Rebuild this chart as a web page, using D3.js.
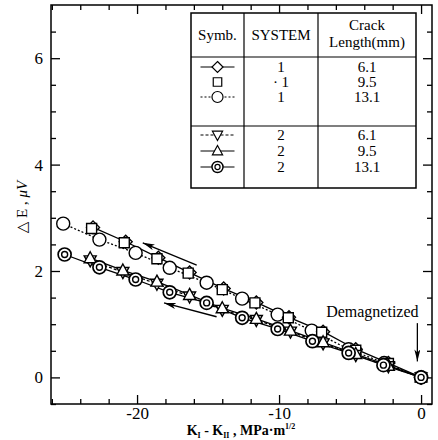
<!DOCTYPE html>
<html lang="en">
<head>
<meta charset="UTF-8">
<title>Delta E vs KI-KII</title>
<script src="https://cdn.jsdelivr.net/npm/d3@7"></script>
<style>
	html,body{margin:0;padding:0;background:#fff;}
	#svg, #svg text{font-family:"Times New Roman","Liberation Serif",Times,"DejaVu Serif",serif !important;}
	#svg text{fill:#000;}
	.axis path,.axis line{stroke:#000;stroke-width:1.3;}
	.axis text{font-size:17px;}
</style>
</head>
<body>
<svg id="svg" width="438" height="440" font-family="Liberation Serif, serif"></svg>
<script>
// ---- data ----
// system 1
var sys1Crack61 = [[-23.1,2.82],[-20.8,2.55],[-18.5,2.25],[-16.3,1.97],[-13.9,1.67],[-11.6,1.41],[-9.3,1.13],[-6.9,0.86],[-4.6,0.53],[-2.3,0.27],[0,0]];
var sys1Crack95 = [[-23.2,2.80],[-20.9,2.53],[-18.6,2.23],[-16.4,1.96],[-14.0,1.65],[-11.7,1.40],[-9.35,1.12],[-7.0,0.85],[-4.6,0.51],[-2.3,0.26],[0,0]];
var sys1Crack131 = [[-25.2,2.89],[-22.65,2.59],[-20.1,2.34],[-17.7,2.06],[-15.1,1.78],[-12.6,1.48],[-10.1,1.18],[-7.7,0.88],[-5.1,0.53],[-2.6,0.27],[0,0]];
// system 2
var sys2Crack61 = [[-23.3,2.20],[-21.0,1.98],[-18.6,1.76],[-16.3,1.52],[-14.0,1.27],[-11.6,1.08],[-9.2,0.86],[-6.9,0.64],[-4.6,0.42],[-2.3,0.21],[0,0]];
var sys2Crack95 = [[-23.3,2.24],[-21.0,2.01],[-18.6,1.80],[-16.3,1.55],[-14.0,1.30],[-11.6,1.10],[-9.2,0.88],[-6.9,0.66],[-4.6,0.44],[-2.3,0.22],[0,0]];
var sys2Crack131 = [[-25.1,2.31],[-22.65,2.07],[-20.1,1.84],[-17.7,1.60],[-15.1,1.40],[-12.6,1.12],[-10.1,0.91],[-7.65,0.68],[-5.1,0.46],[-2.65,0.23],[0,0]];

var xMajorTicks = [-20,-10,0];
var xMinorTicks = [-26,-24,-22,-18,-16,-14,-12,-8,-6,-4,-2];
var yMajorTicks = [0,2,4,6];
var yMinorTicks = [-0.5,0.5,1,1.5,2.5,3,3.5,4.5,5,5.5,6.5];

// table rows: symbol, system, crack length
var tableSymbols = ["diamond","square","circle","triDown","triUp","dcircle"];
var tableSystems = ["1","\u00b7 1","1","2","2","2"];
var tableCracks = ["6.1","9.5","13.1","6.1","9.5","13.1"];
var tableDash = ["none","none","2,2","3,2","none","none"];
var tableHasLine = [true,false,true,true,true,true];

// annotation arrows in data units [x1,y1,x2,y2] (head at second point)
var arrowUpper = [-15.8,2.11,-19.6,2.53];
var arrowLower = [-14.4,1.14,-18.1,1.40];
var arrowDemag = [-0.26,1.02,-0.26,0.30];

// ---- drawing ----
var svg = d3.select("#svg");
var L = 51, R = 432, T = 5, B = 404;

var x = d3.scaleLinear().domain([-26.06,0.77]).range([L,R]);
var y = d3.scaleLinear().domain([-0.5,7]).range([B,T]);

svg.append("defs").append("marker")
	.attr("id","head")
	.attr("viewBox","0 0 12 6")
	.attr("refX",12).attr("refY",3)
	.attr("markerWidth",12).attr("markerHeight",6)
	.attr("markerUnits","userSpaceOnUse")
	.attr("orient","auto")
	.append("path").attr("d","M0,0 L12,3 L0,6 L3,3 Z").attr("fill","#000");

// axes: minor ticks
svg.append("g").attr("class","axis").attr("transform","translate(0,"+B+")")
	.call(d3.axisBottom(x).tickValues(xMinorTicks).tickSize(-5).tickFormat(""));
svg.append("g").attr("class","axis").attr("transform","translate(0,"+T+")")
	.call(d3.axisTop(x).tickValues(xMinorTicks).tickSize(-5).tickFormat(""));
svg.append("g").attr("class","axis").attr("transform","translate("+L+",0)")
	.call(d3.axisLeft(y).tickValues(yMinorTicks).tickSize(-5).tickFormat(""));
svg.append("g").attr("class","axis").attr("transform","translate("+R+",0)")
	.call(d3.axisRight(y).tickValues(yMinorTicks).tickSize(-5).tickFormat(""));

// axes: major ticks
svg.append("g").attr("class","axis").attr("transform","translate(0,"+B+")")
	.call(d3.axisBottom(x).tickValues(xMajorTicks).tickSize(-9).tickPadding(3).tickFormat(d3.format("d")));
svg.append("g").attr("class","axis").attr("transform","translate(0,"+T+")")
	.call(d3.axisTop(x).tickValues(xMajorTicks).tickSize(-9).tickFormat(""));
svg.append("g").attr("class","axis").attr("transform","translate("+L+",0)")
	.call(d3.axisLeft(y).tickValues(yMajorTicks).tickSize(-9).tickPadding(8).tickFormat(d3.format("d")));
svg.append("g").attr("class","axis").attr("transform","translate("+R+",0)")
	.call(d3.axisRight(y).tickValues(yMajorTicks).tickSize(-9).tickFormat(""));

svg.selectAll(".axis .domain").remove();
svg.selectAll(".axis").attr("font-family",null).attr("font-size",null);
svg.append("rect").attr("x",L).attr("y",T).attr("width",R-L).attr("height",B-T)
	.attr("fill","none").attr("stroke","#000").attr("stroke-width",1.5);

// hyphen minus like the original "-20"
svg.selectAll(".axis text").text(function(){ return this.textContent.replace("\u2212","-"); });

// marker shapes
function symbolPath(type){
	switch(type){
		case "diamond": return "M0,-6.5 L6.5,0 L0,6.5 L-6.5,0 Z";
		case "square": return "M-5,-5 L5,-5 L5,5 L-5,5 Z";
		case "triUp": return "M0,-6.5 L6,4.5 L-6,4.5 Z";
		case "triDown": return "M0,6.5 L6,-4.5 L-6,-4.5 Z";
	}
	return null;
}
function drawMarkers(g, data, type, px, py){
	var s = g.selectAll(null).data(data).enter().append("g")
		.attr("transform", function(d){ return "translate("+px(d)+","+py(d)+")"; });
	if(type=="circle"){
		s.append("circle").attr("r",6.5).attr("fill","#fff").attr("stroke","#000").attr("stroke-width",1.4);
	} else if(type=="dcircle"){
		s.append("circle").attr("r",6.5).attr("fill","#fff").attr("stroke","#000").attr("stroke-width",1.7);
		s.append("circle").attr("r",3).attr("fill","#fff").attr("stroke","#000").attr("stroke-width",1.4);
	} else {
		s.append("path").attr("d",symbolPath(type)).attr("fill","#fff").attr("stroke","#000").attr("stroke-width",1.4);
	}
}

var line = d3.line().x(function(d){ return x(d[0]); }).y(function(d){ return y(d[1]); });
var plot = svg.append("g");
function drawLine(data, dash){
	plot.append("path").datum(data).attr("d",line).attr("fill","none")
		.attr("stroke","#000").attr("stroke-width",1.3)
		.attr("stroke-dasharray", dash);
}
drawLine(sys1Crack131,"2,2");
drawLine(sys1Crack61,"none");
drawLine(sys2Crack61,"3,2");
drawLine(sys2Crack95,"none");
drawLine(sys2Crack131,"none");

var px = function(d){ return x(d[0]); }, py = function(d){ return y(d[1]); };
drawMarkers(plot, sys1Crack131, "circle", px, py);
drawMarkers(plot, sys1Crack61, "diamond", px, py);
drawMarkers(plot, sys1Crack95, "square", px, py);
drawMarkers(plot, sys2Crack61, "triDown", px, py);
drawMarkers(plot, sys2Crack95, "triUp", px, py);
drawMarkers(plot, sys2Crack131, "dcircle", px, py);

// arrows
[arrowUpper, arrowLower, arrowDemag].forEach(function(a){
	svg.append("line")
		.attr("x1",x(a[0])).attr("y1",y(a[1]))
		.attr("x2",x(a[2])).attr("y2",y(a[3]))
		.attr("stroke","#000").attr("stroke-width",1.3)
		.attr("marker-end","url(#head)");
});
svg.append("text").attr("x",x(arrowDemag[0])-45).attr("y",y(arrowDemag[1])-6)
	.attr("text-anchor","middle").attr("font-size",16).text("Demagnetized");

// table legend
var tb = svg.append("g");
var tx0 = 191, tx1 = 244, tx2 = 318, tx3 = 416, ty0 = 13, ty1 = 57, ty2 = 126, ty3 = 188;
tb.append("rect").attr("x",tx0).attr("y",ty0).attr("width",tx3-tx0).attr("height",ty3-ty0)
	.attr("fill","#fff").attr("stroke","#000").attr("stroke-width",1.5);
[[tx1,ty0,tx1,ty3],[tx2,ty0,tx2,ty3],[tx0,ty1,tx3,ty1],[tx0,ty2,tx3,ty2]].forEach(function(l){
	tb.append("line").attr("x1",l[0]).attr("y1",l[1]).attr("x2",l[2]).attr("y2",l[3])
		.attr("stroke","#000").attr("stroke-width",1.2);
});
var hdr = tb.append("g").attr("font-size",15).attr("text-anchor","middle");
hdr.append("text").attr("x",(tx0+tx1)/2).attr("y",40).text("Symb.");
hdr.append("text").attr("x",(tx1+tx2)/2).attr("y",40).text("SYSTEM");
hdr.append("text").attr("x",(tx2+tx3)/2).attr("y",30).text("Crack");
hdr.append("text").attr("x",(tx2+tx3)/2).attr("y",47).text("Length(mm)");

var rowY = [67,82,97,135,151,167];
tableSymbols.forEach(function(t,i){
	var cx = (tx0+tx1)/2, cy = rowY[i];
	if(tableHasLine[i]){
		tb.append("line").attr("x1",cx-17).attr("x2",cx+17).attr("y1",cy).attr("y2",cy)
			.attr("stroke","#000").attr("stroke-width",1.2).attr("stroke-dasharray",tableDash[i]);
	}
	var g = tb.append("g").attr("transform","translate("+cx+","+cy+") scale(0.85)");
	drawMarkers(g, [[0,0]], t, function(){return 0;}, function(){return 0;});
	tb.append("text").attr("x",(tx1+tx2)/2).attr("y",cy+5).attr("text-anchor","middle")
		.attr("font-size",15).text(tableSystems[i]);
	tb.append("text").attr("x",(tx2+tx3)/2).attr("y",cy+5).attr("text-anchor","middle")
		.attr("font-size",15).text(tableCracks[i]);
});

// axis titles
var xl = svg.append("text").attr("x",241).attr("y",435).attr("text-anchor","middle")
	.attr("font-size",14).attr("font-weight","bold");
xl.append("tspan").text("K");
xl.append("tspan").attr("font-size",8).attr("dy",3).text("I");
xl.append("tspan").attr("dy",-3).text(" - K");
xl.append("tspan").attr("font-size",8).attr("dy",3).text("II");
xl.append("tspan").attr("dy",-3).text(" ,    MPa\u00b7m");
xl.append("tspan").attr("font-size",8).attr("dy",-6).text("1/2");

var yl = svg.append("text").attr("transform","translate(27,207) rotate(-90)")
	.attr("text-anchor","middle").attr("font-size",15);
yl.append("tspan").text("\u25b3 E ,   ");
yl.append("tspan").attr("font-style","italic").text("\u03bcV");
</script>
</body>
</html>
